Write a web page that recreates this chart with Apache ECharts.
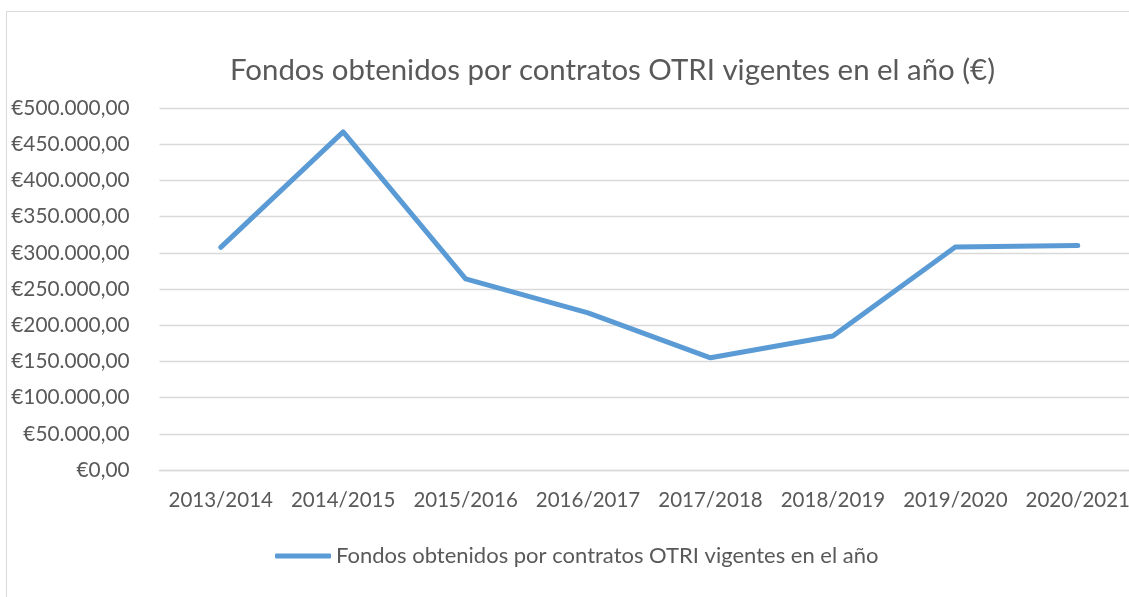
<!DOCTYPE html>
<html>
<head>
<meta charset="utf-8">
<script src="https://cdn.jsdelivr.net/npm/echarts@6/dist/echarts.min.js"></script>
<style>
html,body{margin:0;padding:0;background:#fff;}
#c{width:1129px;height:597px;}
</style>
</head>
<body>
<div id="c"></div>
<script>
const categories = ['2013/2014','2014/2015','2015/2016','2016/2017','2017/2018','2018/2019','2019/2020','2020/2021'];
const seriesName = 'Fondos obtenidos por contratos OTRI vigentes en el año';
const fondos = [307500, 467000, 264000, 217000, 155000, 185000, 308000, 310000];
const titleText = 'Fondos obtenidos por contratos OTRI vigentes en el año (€)';

function fmtEuro(v){
  const s = Math.round(v).toString().replace(/\B(?=(\d{3})+(?!\d))/g, '.');
  return '€' + s + ',00';
}

const chart = echarts.init(document.getElementById('c'), null, {renderer:'canvas'});
const FONT = 'Lato';
chart.setOption({
  backgroundColor:'#fff',
  animation:false,
  graphic:[{
    type:'rect', silent:true, z:-10,
    shape:{x:6.5, y:11.5, width:1300, height:800},
    style:{fill:'none', stroke:'#d9d9d9', lineWidth:1}
  }],
  title:{
    text:titleText, left:225, top:51,
    textStyle:{fontFamily:FONT, fontSize:29.4, fontWeight:'normal', color:'#595959'}
  },
  grid:{left:159.5, top:108, width:979.5, bottom:127, containLabel:false, outerBoundsMode:'none'},
  legend:{
    data:[{name:seriesName, icon:'roundRect'}], left:275, top:545, padding:0,
    itemWidth:56, itemHeight:5, itemGap:5,
    textStyle:{fontFamily:FONT, fontSize:22, color:'#595959'}
  },
  xAxis:{
    type:'category', data:categories, boundaryGap:true,
    axisLine:{show:true, lineStyle:{color:'#d9d9d9', width:1.3}},
    axisTick:{show:false},
    axisLabel:{fontFamily:FONT, fontSize:20.5, color:'#595959', margin:20, interval:0}
  },
  yAxis:{
    type:'value', min:0, max:500000, interval:50000,
    axisLine:{show:false}, axisTick:{show:false},
    splitLine:{lineStyle:{color:'#d9d9d9', width:1.3}},
    axisLabel:{fontFamily:FONT, fontSize:20.8, color:'#595959', margin:30, formatter:fmtEuro}
  },
  series:[{
    name:seriesName, type:'line', data:fondos,
    symbol:'none', showSymbol:false,
    lineStyle:{color:'#5b9bd5', width:5, cap:'round', join:'round'},
    itemStyle:{color:'#5b9bd5'}
  }]
});
</script>
</body>
</html>
